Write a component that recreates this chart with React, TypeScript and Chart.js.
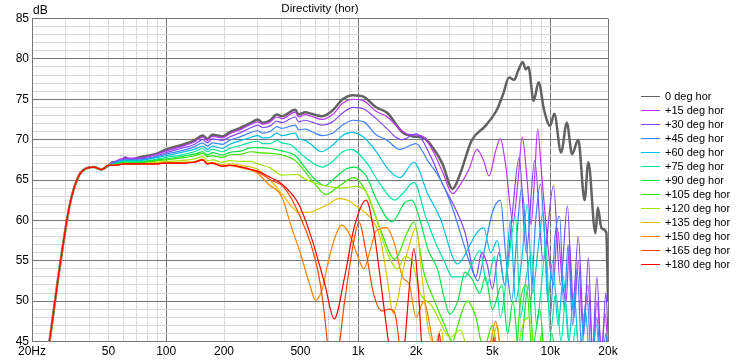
import React, { useEffect, useRef } from 'react';
import { Chart, registerables } from 'chart.js';

Chart.register(...registerables);

const seriesLabels = [
  '0 deg hor', '+15 deg hor', '+30 deg hor', '+45 deg hor', '+60 deg hor', '+75 deg hor', '+90 deg hor',
  '+105 deg hor', '+120 deg hor', '+135 deg hor', '+150 deg hor', '+165 deg hor', '+180 deg hor',
];
const seriesColors = [
  '#626262', '#be32ff', '#8246ff', '#3c82ff', '#00bee6', '#00e6a0', '#00e646',
  '#3ce600', '#a0e600', '#e6be00', '#ff8200', '#ff4600', '#ff0000',
];

// shared low-frequency roll-off (identical for every angle)
const lowFreq = [20, 22.4, 25, 28, 31.5, 35, 38, 42, 46, 50];
const lowDb = [30, 38, 46, 54.5, 62, 65.5, 66.4, 66.6, 66.3, 66.8];

const f0 = [53, 58, 61, 65, 72, 80, 90, 100, 119, 140, 155, 164, 174, 196, 213, 246, 277, 300, 318, 348, 377, 400, 470, 490, 530, 570, 650, 735, 830, 940, 1070, 1240, 1420, 1700, 1930, 2200, 2450, 2750, 3100, 3400, 3900, 4600, 5300, 5700, 6100, 6500, 6800, 7200, 7450, 7700, 8200, 8700, 9300, 10000, 10500, 11400, 12200, 13000, 14000, 15100, 15800, 17200, 17700, 18500, 19600, 20000];
const d0 = [67.2, 67.0, 67.8, 67.5, 67.8, 68.0, 68.3, 68.8, 69.3, 69.9, 70.5, 70.1, 70.6, 70.4, 70.9, 71.5, 72.1, 72.5, 72.1, 72.4, 73.1, 72.9, 73.7, 73.1, 73.4, 73.2, 72.9, 73.6, 75.0, 75.5, 75.3, 74.0, 73.3, 70.9, 70.4, 70.2, 69.0, 67.0, 63.9, 65.8, 69.9, 71.7, 73.8, 75.7, 77.7, 77.4, 78.5, 79.6, 78.7, 79.0, 74.8, 77.1, 73.6, 71.7, 73.2, 68.4, 72.1, 68.2, 70.0, 62.5, 67.2, 58.4, 61.6, 59.0, 58.5, 50.0];

const f1 = [53, 61, 72, 90, 100, 119, 140, 155, 164, 174, 196, 213, 246, 277, 300, 318, 348, 377, 400, 470, 490, 530, 570, 650, 735, 830, 940, 1070, 1240, 1420, 1600, 1800, 2000, 2200, 2450, 2750, 3100, 3400, 3800, 4150, 4500, 4800, 5200, 5500, 5850, 6400, 6800, 7150, 7550, 7950, 8300, 8600, 9000, 9400, 9900, 10400, 10900, 11500, 12100, 12600, 13300, 14000, 14800, 15700, 16700, 17500, 18500, 19300, 20000];
const d1 = [67.2, 67.7, 67.7, 68.2, 68.6, 69.1, 69.7, 70.3, 69.9, 70.4, 70.2, 70.7, 71.3, 71.9, 72.2, 71.9, 72.2, 72.8, 72.6, 73.4, 72.8, 73.1, 72.9, 72.5, 73.1, 74.5, 75.0, 74.8, 73.5, 72.8, 71.6, 70.7, 70.6, 70.3, 68.6, 66.0, 63.3, 64.4, 66.5, 68.8, 67.4, 65.5, 68.6, 70.1, 67.0, 59.8, 65.0, 70.3, 65.5, 59.5, 65.5, 71.3, 66.0, 60.8, 55.0, 52.0, 59.0, 53.0, 50.0, 57.0, 48.0, 55.0, 46.5, 52.0, 44.0, 50.0, 44.0, 48.5, 44.0];

const f2 = [53, 61, 72, 90, 100, 119, 140, 155, 164, 174, 196, 213, 246, 277, 300, 318, 348, 377, 400, 470, 490, 530, 570, 650, 735, 830, 940, 1070, 1240, 1420, 1550, 1700, 2000, 2400, 2750, 3200, 3600, 4100, 4400, 4700, 5000, 5400, 5800, 6300, 6900, 7500, 8300, 9200, 10400, 11300, 12300, 13100, 14000, 15000, 15800, 16600, 17500, 18500, 19500, 20000];
const d2 = [67.1, 67.6, 67.6, 68.0, 68.4, 68.9, 69.4, 70.0, 69.6, 70.1, 69.9, 70.3, 70.9, 71.5, 71.8, 71.5, 71.7, 72.3, 72.1, 72.8, 72.2, 72.4, 72.2, 71.8, 72.2, 73.3, 74.0, 73.8, 72.6, 71.3, 70.4, 70.0, 70.7, 67.8, 64.5, 61.5, 58.5, 53.0, 56.0, 54.5, 51.5, 56.0, 52.0, 60.0, 67.8, 56.0, 67.4, 55.0, 64.3, 52.0, 61.8, 49.0, 58.0, 46.0, 55.4, 44.0, 53.0, 43.0, 51.0, 46.0];

const f3 = [53, 61, 72, 90, 100, 119, 140, 155, 164, 174, 196, 213, 246, 277, 300, 318, 348, 377, 400, 470, 490, 530, 570, 650, 735, 830, 940, 1070, 1240, 1400, 1650, 2000, 2300, 2700, 3100, 3500, 3900, 4200, 4600, 5000, 5500, 5900, 6300, 6700, 7100, 7500, 7900, 8400, 8900, 9400, 10000, 10600, 11200, 11800, 12400, 13100, 13800, 14600, 15500, 16500, 17500, 18500, 19500, 20000];
const d3 = [67.1, 67.5, 67.5, 67.9, 68.2, 68.6, 69.1, 69.6, 69.2, 69.6, 69.4, 69.9, 70.4, 70.9, 71.1, 70.8, 71.0, 71.6, 71.4, 71.8, 71.2, 71.3, 71.0, 70.5, 70.8, 71.8, 72.4, 72.2, 70.6, 70.0, 68.8, 69.5, 67.4, 64.9, 61.5, 57.5, 54.0, 52.5, 57.0, 61.0, 62.5, 55.0, 50.0, 58.0, 64.0, 58.0, 50.0, 60.0, 64.5, 57.0, 48.0, 58.0, 60.5, 49.0, 57.0, 47.0, 54.0, 44.0, 51.0, 42.0, 48.0, 41.0, 46.0, 43.0];

const f4 = [53, 61, 72, 90, 100, 119, 140, 155, 164, 174, 196, 213, 246, 277, 300, 318, 348, 377, 400, 470, 490, 530, 570, 640, 735, 830, 920, 1070, 1240, 1450, 1650, 1950, 2300, 2700, 3100, 3300, 3700, 4100, 4500, 4900, 5300, 5800, 6200, 6600, 7100, 7600, 8100, 8600, 9200, 9700, 10300, 11000, 11700, 12500, 13300, 14200, 15200, 16200, 17400, 18500, 20000];
const d4 = [67.0, 67.4, 67.4, 67.8, 68.0, 68.4, 68.8, 69.2, 68.8, 69.2, 68.9, 69.4, 69.9, 70.3, 70.5, 70.2, 70.3, 70.8, 70.5, 70.8, 70.1, 69.9, 69.4, 68.5, 69.3, 70.5, 70.9, 70.3, 68.5, 66.2, 65.3, 67.2, 63.3, 60.0, 55.5, 54.6, 56.3, 58.3, 59.1, 56.0, 57.5, 52.0, 60.0, 50.0, 55.0, 62.0, 51.0, 56.0, 61.0, 50.0, 55.0, 47.0, 53.0, 45.0, 51.0, 43.0, 49.0, 42.0, 47.0, 40.0, 44.0];

const f5 = [53, 61, 72, 90, 100, 119, 140, 155, 164, 174, 196, 213, 246, 277, 300, 318, 348, 377, 400, 450, 490, 530, 650, 735, 830, 920, 1100, 1300, 1550, 1700, 1950, 2250, 2500, 2800, 3100, 3600, 3900, 4300, 4700, 5100, 5500, 6000, 6600, 7000, 7500, 8000, 8500, 9000, 9500, 10000, 10700, 11400, 12000, 12800, 13600, 14500, 15500, 16500, 17500, 18500, 20000];
const d5 = [66.9, 67.3, 67.3, 67.6, 67.8, 68.1, 68.5, 68.9, 68.5, 68.8, 68.5, 68.9, 69.3, 69.7, 69.8, 69.5, 69.5, 69.9, 69.6, 69.3, 68.5, 67.8, 66.6, 67.3, 68.5, 68.8, 67.2, 64.5, 62.5, 63.3, 64.7, 60.4, 57.5, 55.0, 53.0, 53.0, 54.5, 56.3, 52.0, 55.5, 48.0, 54.0, 60.5, 48.0, 53.0, 56.0, 47.0, 52.0, 57.0, 46.0, 51.0, 45.0, 50.0, 42.0, 47.0, 40.0, 45.0, 40.0, 44.0, 39.0, 42.0];

const f6 = [53, 61, 72, 90, 100, 119, 140, 155, 164, 174, 196, 213, 246, 277, 300, 348, 400, 470, 530, 600, 670, 760, 870, 950, 1100, 1250, 1500, 1750, 1900, 2100, 2300, 2600, 2800, 3000, 3300, 3600, 3900, 4300, 4600, 5000, 5600, 6000, 6400, 6900, 7700, 8200, 8800, 9500, 10200, 11000, 11800, 12600, 13500, 14500, 15500, 17000, 18500, 20000];
const d6 = [66.9, 67.2, 67.2, 67.5, 67.6, 67.9, 68.2, 68.5, 68.1, 68.4, 68.1, 68.4, 68.6, 69.0, 69.0, 68.9, 68.6, 68.0, 66.5, 65.0, 64.3, 65.3, 66.4, 66.6, 65.5, 62.5, 59.8, 62.2, 62.5, 60.0, 56.5, 53.8, 50.5, 48.4, 50.0, 53.6, 52.8, 51.0, 53.0, 49.0, 52.0, 46.0, 50.0, 43.0, 52.0, 45.0, 49.0, 42.0, 46.0, 40.0, 44.0, 39.0, 43.0, 38.0, 42.0, 37.0, 41.0, 38.0];

const f7 = [53, 61, 72, 90, 100, 119, 140, 155, 164, 174, 196, 213, 246, 277, 300, 348, 400, 470, 530, 600, 680, 780, 950, 1100, 1300, 1550, 1800, 1950, 2200, 2500, 2800, 3100, 3300, 3700, 4100, 4500, 5000, 5500, 6000, 6500, 7000, 7500, 8000, 8500, 9000, 9600, 10500, 11500, 12500, 14000, 16000, 18000, 20000];
const d7 = [66.9, 67.1, 67.1, 67.4, 67.5, 67.7, 68.0, 68.3, 67.9, 68.0, 67.8, 68.1, 68.2, 68.5, 68.4, 68.3, 68.1, 67.4, 66.0, 64.4, 63.2, 64.1, 65.3, 63.5, 59.0, 55.2, 58.5, 59.8, 53.5, 50.0, 47.2, 45.0, 47.0, 50.0, 48.0, 44.0, 47.0, 42.0, 45.0, 41.0, 50.0, 52.0, 44.0, 40.0, 46.0, 39.0, 44.0, 38.0, 42.0, 37.0, 40.0, 36.0, 38.0];

const f8 = [53, 61, 72, 90, 100, 119, 140, 155, 164, 174, 196, 213, 246, 277, 300, 348, 400, 480, 520, 600, 700, 820, 970, 1100, 1240, 1400, 1600, 1750, 1900, 2100, 2400, 2600, 3000, 3400, 3800, 4500, 5000, 5500, 6500, 7300, 7800, 8300, 9000, 10000, 12000, 15000, 20000];
const d8 = [66.8, 67.0, 67.0, 67.2, 67.3, 67.4, 67.6, 67.9, 67.4, 67.5, 67.2, 67.4, 67.3, 67.3, 67.0, 66.5, 65.6, 65.7, 65.2, 64.6, 64.2, 64.0, 64.2, 63.5, 60.4, 56.3, 54.0, 55.5, 55.0, 51.0, 49.5, 48.0, 45.5, 46.4, 43.0, 41.0, 44.0, 40.0, 42.0, 47.5, 48.0, 43.0, 38.0, 41.0, 36.0, 37.0, 35.0];

const f9 = [53, 61, 72, 90, 100, 119, 140, 155, 164, 174, 196, 213, 246, 277, 300, 348, 400, 440, 490, 560, 620, 700, 790, 900, 970, 1150, 1300, 1430, 1520, 1600, 1700, 1850, 2000, 2150, 2300, 2500, 2700, 2900, 3300, 3700, 4500, 5000, 5300, 5600, 6500, 7300, 8000, 10000, 14000, 20000];
const d9 = [66.8, 67.0, 67.0, 67.1, 67.2, 67.2, 67.3, 67.6, 67.1, 67.2, 66.9, 67.0, 66.8, 66.6, 66.3, 65.0, 63.3, 62.0, 61.0, 61.0, 61.4, 62.0, 62.7, 62.4, 61.8, 60.4, 57.9, 52.1, 48.5, 50.0, 53.5, 57.0, 59.1, 53.0, 47.0, 44.5, 46.5, 42.0, 44.5, 40.0, 42.0, 45.0, 47.0, 42.0, 40.0, 44.0, 39.0, 37.0, 36.0, 35.0];

const f10 = [53, 61, 72, 90, 100, 119, 140, 155, 164, 174, 196, 213, 246, 277, 300, 340, 400, 450, 500, 560, 600, 650, 700, 760, 820, 900, 980, 1070, 1160, 1240, 1400, 1550, 1700, 1850, 2000, 2200, 2400, 2600, 3000, 3500, 4200, 4800, 5200, 5600, 6500, 8000, 12000, 20000];
const d10 = [66.8, 67.0, 67.0, 67.0, 67.1, 67.1, 67.2, 67.5, 67.0, 67.1, 66.7, 66.8, 66.5, 66.2, 65.8, 64.5, 62.9, 59.1, 55.9, 52.0, 50.1, 51.5, 55.0, 58.0, 59.4, 58.3, 56.0, 54.0, 56.5, 58.7, 59.1, 57.0, 53.0, 52.0, 48.0, 50.0, 46.0, 42.0, 44.0, 40.0, 42.0, 44.0, 47.5, 43.0, 40.0, 38.0, 36.0, 35.0];

const f11 = [53, 61, 72, 90, 100, 119, 140, 155, 164, 174, 196, 213, 246, 277, 300, 350, 410, 500, 600, 650, 690, 720, 770, 850, 950, 1010, 1100, 1200, 1330, 1450, 1550, 1650, 1750, 2100, 2600, 2900, 4000, 20000];
const d11 = [66.8, 67.0, 67.0, 67.0, 67.1, 67.1, 67.2, 67.5, 67.0, 67.1, 66.7, 66.8, 66.6, 66.3, 66.0, 65.0, 64.1, 60.4, 55.0, 50.5, 45.0, 40.0, 42.0, 50.0, 57.5, 59.8, 56.0, 51.0, 48.8, 49.0, 48.5, 44.0, 38.0, 37.0, 43.0, 38.0, 36.0, 35.0];

const f12 = [53, 61, 72, 90, 100, 119, 140, 155, 164, 174, 196, 213, 246, 277, 300, 350, 400, 490, 570, 670, 750, 850, 950, 1100, 1200, 1300, 1400, 1500, 1600, 1750, 1850, 1950, 2050, 2150, 2300, 2550, 2650, 2750, 4700, 5100, 5400, 20000];
const d12 = [66.8, 67.0, 67.0, 67.0, 67.1, 67.1, 67.2, 67.5, 67.0, 67.1, 66.7, 66.8, 66.6, 66.3, 66.1, 65.3, 64.5, 62.0, 57.9, 52.1, 47.8, 53.0, 59.0, 62.5, 59.0, 53.0, 47.0, 42.0, 38.0, 45.0, 52.0, 56.5, 52.0, 44.0, 38.0, 43.0, 46.0, 41.0, 38.0, 45.5, 38.0, 35.0];

const freqSets = [f0, f1, f2, f3, f4, f5, f6, f7, f8, f9, f10, f11, f12];
const dbSets = [d0, d1, d2, d3, d4, d5, d6, d7, d8, d9, d10, d11, d12];

const xGridValues = [20, 30, 40, 50, 60, 70, 80, 90, 100, 200, 300, 400, 500, 600, 700, 800, 900,
  1000, 2000, 3000, 4000, 5000, 6000, 7000, 8000, 9000, 10000, 20000];
const xTickText: Record<number, string> = {
  20: '20Hz', 50: '50', 100: '100', 200: '200', 500: '500', 1000: '1k', 2000: '2k',
  5000: '5k', 10000: '10k', 20000: '20k',
};
const xMajor = [20, 100, 1000, 10000, 20000];

const DARK = '#767676';
const LIGHT = '#d9d9d9';
const FONT = '"Liberation Sans", Arial, sans-serif';

const overlayPlugin = {
  id: 'overlayText',
  afterDraw(chart: any) {
    const { ctx, chartArea } = chart;
    ctx.save();
    ctx.fillStyle = '#000';
    ctx.textBaseline = 'middle';
    ctx.textAlign = 'left';
    ctx.font = `12px ${FONT}`;
    ctx.fillText('dB', chartArea.left + 1, chartArea.top - 7.5);
    const n = chart.data.datasets.length;
    const step = 14;
    const cy = (chartArea.top + chartArea.bottom) / 2;
    const y0 = cy - (step * (n - 1)) / 2;
    ctx.font = `11px ${FONT}`;
    chart.data.datasets.forEach((ds: any, i: number) => {
      const y = Math.round(y0 + i * step) + 0.5;
      ctx.strokeStyle = ds.borderColor;
      ctx.lineWidth = 1;
      ctx.beginPath();
      ctx.moveTo(chartArea.right + 33, y);
      ctx.lineTo(chartArea.right + 52, y);
      ctx.stroke();
      ctx.fillText(ds.label, chartArea.right + 57, y);
    });
    ctx.restore();
  },
};

export default function App() {
  const ref = useRef<HTMLCanvasElement | null>(null);

  useEffect(() => {
    if (!ref.current) return;
    const n = seriesLabels.length;
    const datasets = seriesLabels.map((label, i) => {
      const fx = lowFreq.concat(freqSets[i]);
      const dy = lowDb.concat(dbSets[i]);
      return {
        label,
        data: fx.map((x, k) => ({ x, y: dy[k] })),
        borderColor: seriesColors[i],
        backgroundColor: seriesColors[i],
        borderWidth: i === 0 ? 2.5 : 1.2,
        pointRadius: 0,
        fill: false,
        cubicInterpolationMode: 'monotone' as const,
        order: n - 1 - i,
      };
    });

    const chart = new Chart(ref.current, {
      type: 'line',
      data: { datasets },
      plugins: [overlayPlugin],
      options: {
        animation: false,
        responsive: false,
        devicePixelRatio: 1,
        layout: { padding: { left: 0, right: 130, top: 0, bottom: 0 } },
        plugins: {
          legend: { display: false },
          tooltip: { enabled: false },
          title: {
            display: true,
            text: 'Directivity (hor)',
            fullSize: false,
            color: '#000',
            font: { size: 11.5, weight: 'normal', family: FONT },
            padding: { top: 2, bottom: 2.7 },
          },
        },
        scales: {
          x: {
            type: 'logarithmic',
            min: 20,
            max: 20000,
            afterBuildTicks: (scale: any) => {
              scale.ticks = xGridValues.map((v) => ({ value: v }));
            },
            afterFit: (scale: any) => {
              scale.height = 18.5;
            },
            ticks: {
              autoSkip: false,
              maxRotation: 0,
              minRotation: 0,
              padding: 3,
              color: '#000',
              font: { size: 12, family: FONT },
              callback: (value: any) => xTickText[Number(value)] ?? '',
            },
            grid: {
              drawTicks: false,
              lineWidth: 1,
              color: (c: any) => (xMajor.includes(c.tick?.value) ? DARK : LIGHT),
            },
            border: { display: true, color: DARK, width: 1 },
          },
          y: {
            type: 'linear',
            min: 45,
            max: 85,
            afterFit: (scale: any) => {
              scale.width = 32;
            },
            ticks: {
              stepSize: 1,
              autoSkip: false,
              padding: 3,
              color: '#000',
              font: { size: 12, family: FONT },
              callback: (value: any) => (Number(value) % 5 === 0 ? String(value) : ''),
            },
            grid: {
              drawTicks: false,
              lineWidth: 1,
              color: (c: any) => (c.tick && c.tick.value % 5 === 0 ? DARK : LIGHT),
            },
            border: { display: true, color: DARK, width: 1 },
          },
        },
      },
    });
    return () => chart.destroy();
  }, []);

  return (
    <div style={{ position: 'absolute', left: 0, top: 0, width: 738, height: 360, background: '#fff' }}>
      <canvas ref={ref} width={738} height={360} style={{ display: 'block' }} />
    </div>
  );
}
